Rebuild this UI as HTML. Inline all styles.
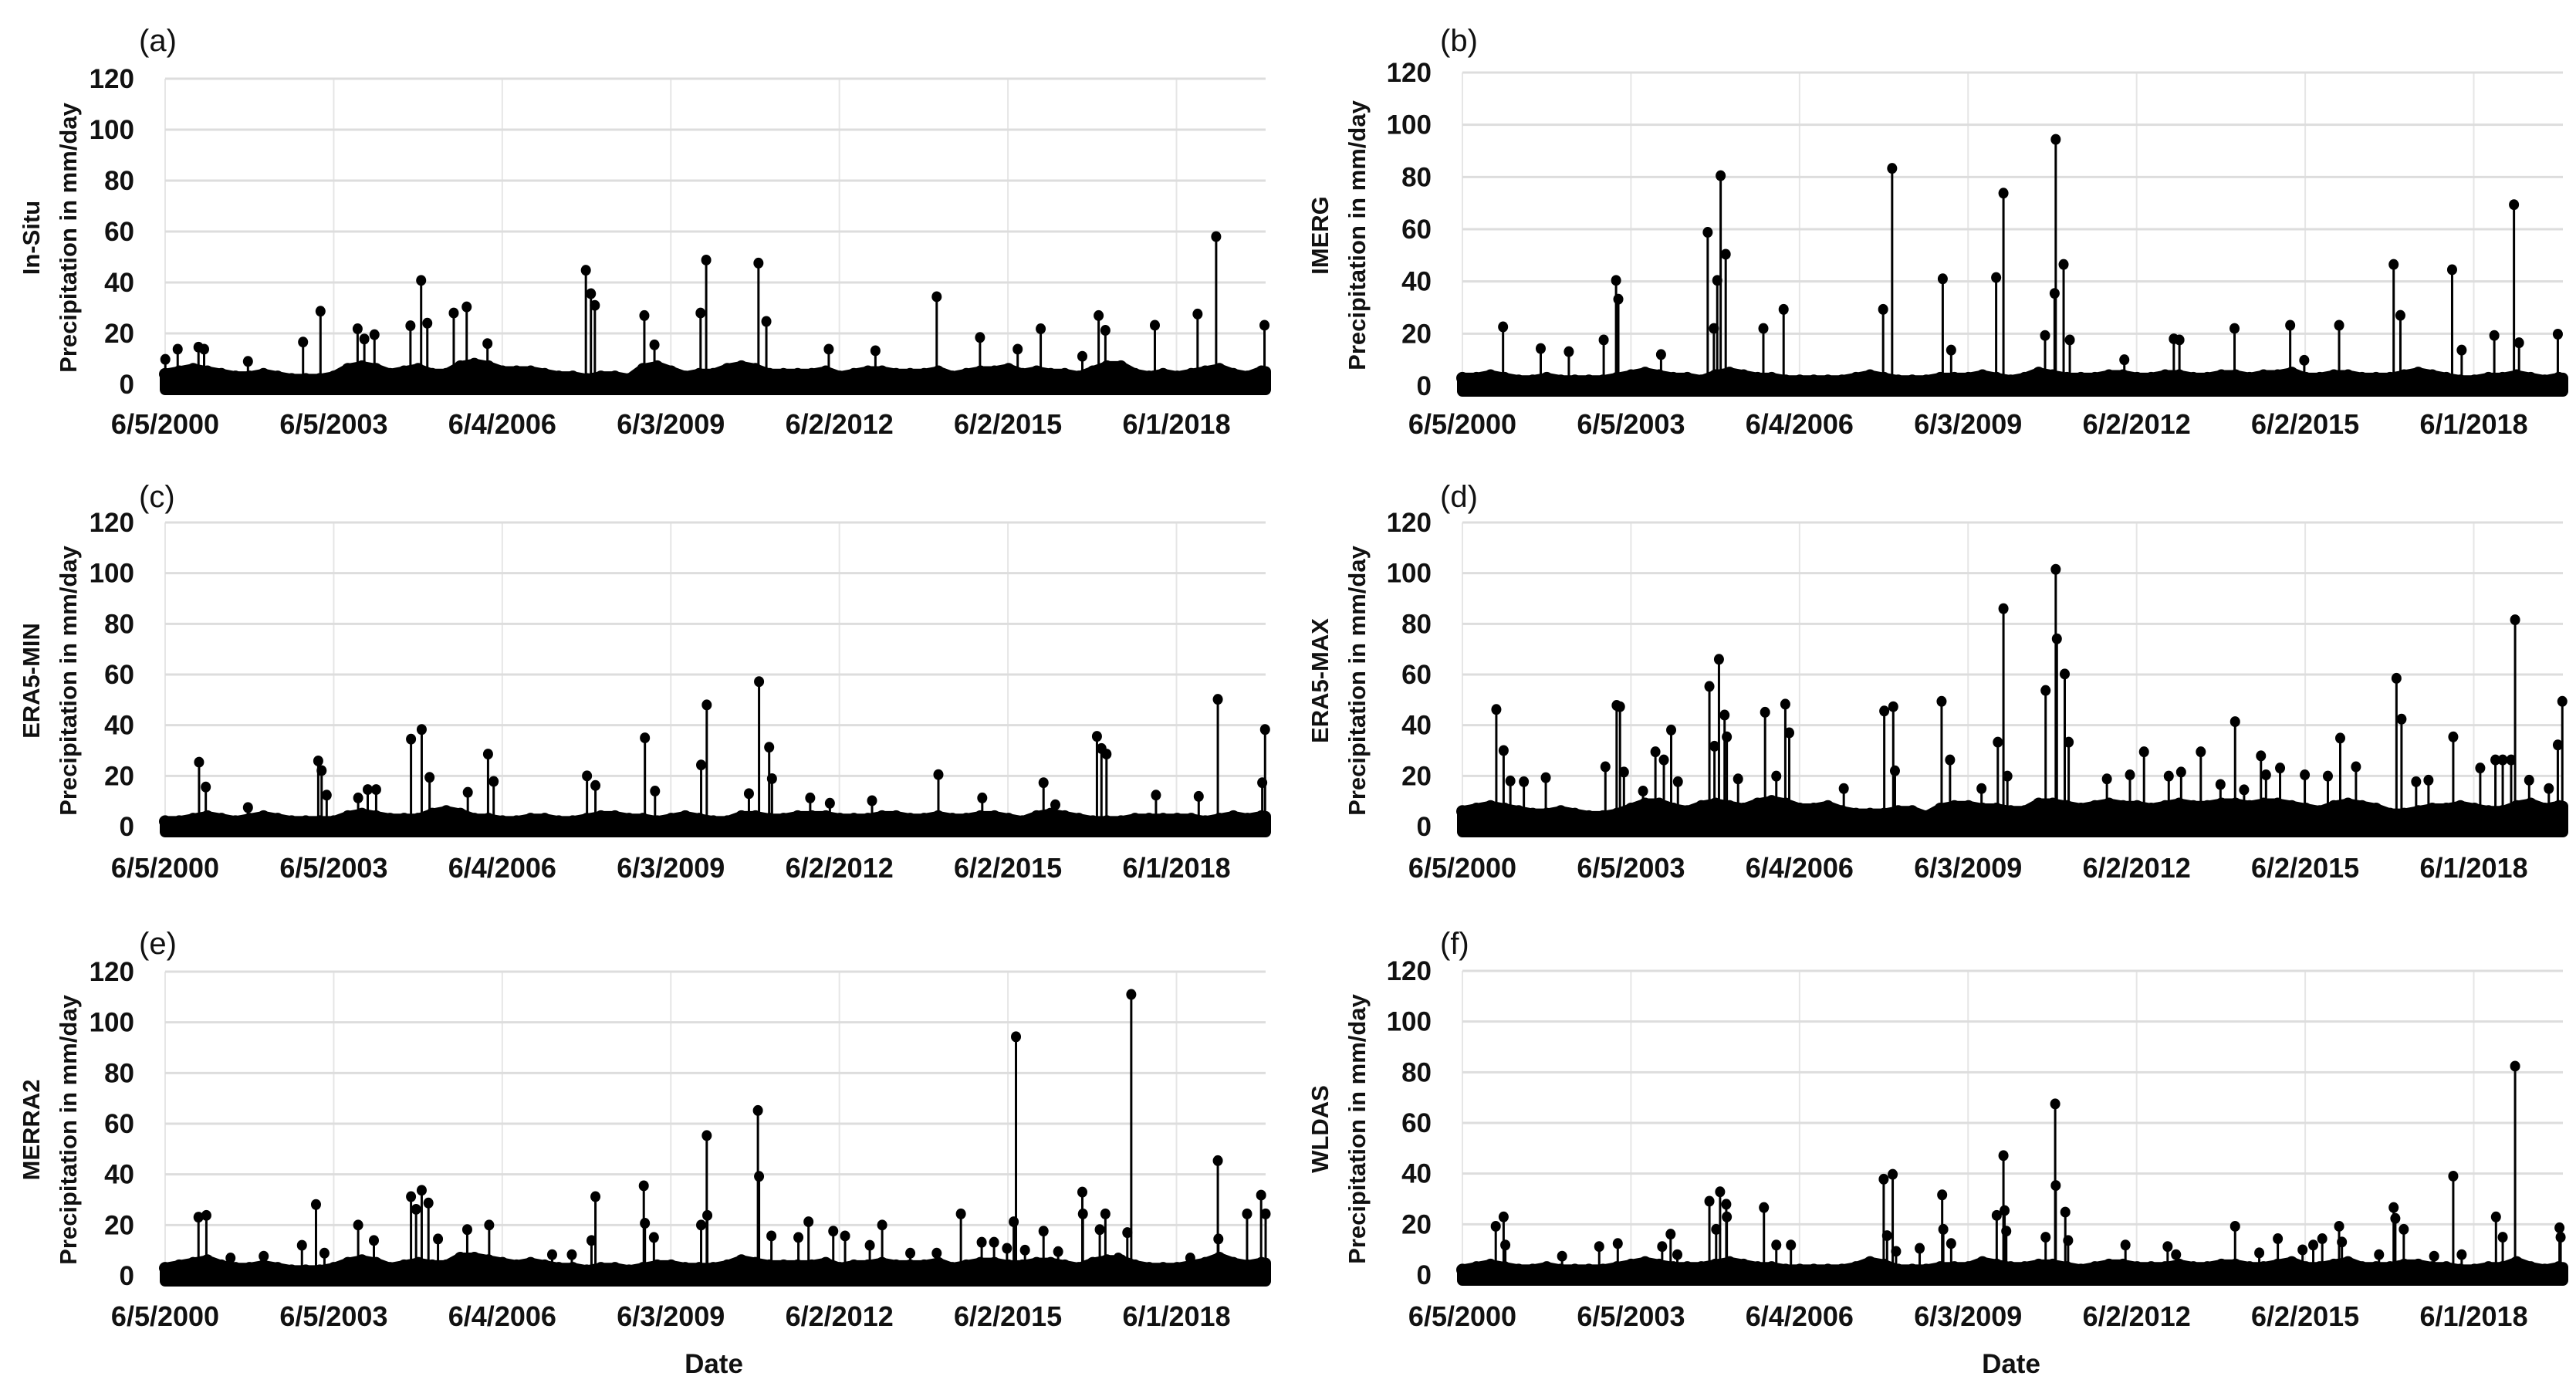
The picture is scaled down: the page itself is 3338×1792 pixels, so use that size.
<!DOCTYPE html>
<html><head><meta charset="utf-8"><style>
html,body{margin:0;padding:0;background:#fff;}
svg{display:block;font-family:"Liberation Sans",Arial,sans-serif;}
</style></head><body>
<svg id="fig" width="3338" height="1792" viewBox="0 0 3338 1792" xmlns="http://www.w3.org/2000/svg"></svg>
<script>
// ---- tick labels ----
const yTicks = [0, 20, 40, 60, 80, 100, 120];
const dateTickLabels = ["6/5/2000","6/5/2003","6/4/2006","6/3/2009","6/2/2012","6/2/2015","6/1/2018"];
const dateTickYears = [2000.427, 2003.425, 2006.423, 2009.421, 2012.419, 2015.417, 2018.415];
const xStart = 2000.427, xEnd = 2020.0, baseStep = 0.25;

// ---- (a) In-Situ ----
const aPeakYears = [2000.43,2000.65,2001.02,2001.12,2001.90,2002.88,2003.19,2003.85,2003.97,2004.15,2004.79,2004.98,2005.09,2005.56,2005.79,2006.16,2007.91,2008.00,2008.07,2008.95,2009.13,2009.95,2010.05,2010.98,2011.12,2012.23,2013.06,2014.15,2014.92,2015.59,2016.00,2016.74,2017.03,2017.15,2018.03,2018.79,2019.12,2019.98];
const aPeakVals = [9.8,13.8,14.6,13.8,9,16.6,28.7,21.8,17.8,19.5,23,40.8,24,28,30.4,16,44.8,35.6,31,27,15.5,28,48.8,47.6,24.7,13.8,13.2,34.4,18.4,13.8,21.8,11,27,21.2,23.2,27.6,58,23.2];
const aBase = [4,5,6,5,4,3,3,4,3,2,2,2,3,6,7,6,4,5,6,4,4,7,8,7,5,5,5,4,3,3,2,3,3,2,6,7,5,3,4,4,6,7,6,4,4,4,4,5,3,4,5,5,4,4,4,5,3,4,5,5,6,4,5,4,4,3,5,7,7,4,3,4,3,4,5,6,4,3,5];
// ---- (b) IMERG ----
const bPeakYears = [2001.15,2001.82,2002.32,2002.94,2003.16,2003.20,2003.96,2004.79,2004.90,2004.96,2005.02,2005.11,2005.78,2006.14,2007.91,2008.07,2008.97,2009.12,2009.92,2010.05,2010.79,2010.96,2010.98,2011.12,2011.23,2012.20,2013.08,2013.18,2014.16,2015.15,2015.40,2016.02,2016.99,2017.11,2018.03,2018.20,2018.78,2019.13,2019.22,2019.91];
const bPeakVals = [22.6,14.3,13.1,17.6,40.4,33.2,12,58.8,22,40.4,80.5,50.4,22,29.3,29.3,83.3,41,13.7,41.5,73.8,19.3,35.4,94.4,46.5,17.6,10,18,17.6,22,23.2,9.8,23.2,46.5,27,44.5,13.7,19.3,69.4,16.5,19.8];
const bBase = [3,3,4,3,2,2,3,2,2,2,2,3,4,5,4,3,3,2,4,5,4,3,3,2,2,2,2,2,3,4,3,2,2,2,3,3,3,4,3,2,3,5,4,3,3,3,4,4,3,3,4,4,3,3,4,4,3,4,4,5,3,3,4,4,3,3,3,4,5,4,3,2,2,3,3,4,3,2,3];
// ---- (c) ERA5-MIN ----
const cPeakYears = [2001.03,2001.15,2001.90,2003.15,2003.21,2003.30,2003.86,2004.03,2004.18,2004.80,2004.99,2005.13,2005.81,2006.17,2006.27,2007.93,2008.08,2008.96,2009.14,2009.96,2010.06,2010.81,2010.99,2011.17,2011.22,2011.90,2012.25,2013.00,2014.18,2014.96,2016.05,2016.26,2017.00,2017.08,2017.17,2018.05,2018.81,2019.15,2019.94,2019.99];
const cPeakVals = [25.4,15.6,7.5,25.9,22.1,12.4,11.3,14.6,14.6,34.5,38.3,19.4,13.5,28.6,17.8,20,16.2,35,14,24.3,48,13,57.2,31.3,18.9,11.3,9.2,10.2,20.5,11.3,17.3,8.6,35.6,30.8,28.6,12.4,11.9,50.2,17.3,38.3];
const cBase = [2,2,3,4,3,2,3,4,3,2,2,2,2,4,5,4,3,3,3,5,6,5,3,3,2,2,3,3,2,2,3,4,4,3,3,2,3,4,3,2,2,4,4,3,3,4,4,4,3,3,3,4,4,3,3,4,3,3,4,4,3,2,4,5,4,3,2,2,2,3,3,3,3,3,2,3,4,3,4];
// ---- (d) ERA5-MAX ----
const dPeakYears = [2001.03,2001.16,2001.28,2001.52,2001.91,2002.97,2003.17,2003.23,2003.30,2003.64,2003.86,2004.01,2004.14,2004.26,2004.82,2004.91,2004.99,2005.09,2005.13,2005.33,2005.81,2006.01,2006.17,2006.24,2007.21,2007.93,2008.09,2008.12,2008.95,2009.10,2009.66,2009.95,2010.05,2010.12,2010.80,2010.98,2011.00,2011.14,2011.21,2011.89,2012.30,2012.55,2012.99,2013.21,2013.56,2013.91,2014.17,2014.33,2014.63,2014.72,2014.97,2015.41,2015.82,2016.04,2016.32,2017.04,2017.13,2017.39,2017.61,2018.05,2018.53,2018.80,2018.93,2019.08,2019.15,2019.40,2019.75,2019.91,2019.99];
const dPeakVals = [46.2,30,18,17.7,19.3,23.6,47.8,47.3,21.5,14,29.5,26.3,38.1,17.7,55.3,31.7,66,44,35.4,18.8,45.1,19.9,48.3,37,15,45.6,47.3,22,49.4,26.3,15,33.3,86,19.9,53.7,101.5,74.1,60.2,33.3,18.8,20.4,29.5,19.9,21.5,29.5,16.6,41.4,14.5,27.9,20.4,23.1,20.4,19.9,34.9,23.6,58.5,42.4,17.7,18.3,35.4,23.1,26.3,26.3,26.3,81.6,18.3,15,32.2,49.4];
const dBase = [6,7,8,7,6,5,5,6,5,4,4,5,7,9,9,7,6,8,9,8,7,9,10,9,7,7,8,6,5,5,5,6,6,4,7,8,8,7,7,6,6,9,9,8,7,8,9,8,8,7,8,9,8,8,9,9,8,9,9,8,7,6,8,9,8,7,5,5,6,7,7,8,7,6,6,8,9,7,8];
// ---- (e) MERRA2 ----
const ePeakYears = [2001.02,2001.16,2001.59,2002.18,2002.86,2003.11,2003.26,2003.86,2004.14,2004.80,2004.89,2004.99,2005.11,2005.28,2005.80,2006.19,2007.31,2007.66,2008.01,2008.08,2008.94,2008.96,2009.12,2009.96,2010.06,2010.07,2010.97,2010.99,2011.21,2011.69,2011.87,2012.31,2012.52,2012.96,2013.18,2013.68,2014.15,2014.58,2014.95,2015.17,2015.40,2015.56,2015.52,2015.72,2016.05,2016.31,2016.74,2016.75,2017.05,2017.15,2017.38,2017.54,2017.61,2018.66,2019.15,2019.16,2019.67,2019.92,2020.0];
const ePeakVals = [23.1,23.8,7,7.7,12,28.1,8.9,20,13.9,31.2,26.2,33.7,28.7,14.5,18.2,20,8.3,8.3,13.9,31.2,35.5,20.7,15.1,20,55.3,23.8,65.2,39.2,15.7,15.1,21.3,17.6,15.7,12,20,8.9,8.9,24.4,13.2,13.2,10.8,94.3,21.3,10.1,17.6,9.5,33,24.4,18.2,24.4,7,17,111,7,45.4,14.5,24.4,31.8,24.4];
const eBase = [3,4,5,6,4,3,3,4,3,2,2,2,3,5,6,5,3,4,5,4,4,7,7,6,5,4,5,4,3,3,2,3,3,2,3,4,4,3,3,3,4,6,5,4,4,4,4,5,3,4,4,5,4,4,4,5,3,4,5,5,4,4,5,5,4,3,5,6,6,4,3,3,3,4,5,7,5,4,5];
// ---- (f) WLDAS ----
const fPeakYears = [2001.02,2001.16,2001.19,2002.20,2002.86,2003.19,2003.98,2004.13,2004.25,2004.82,2004.94,2005.01,2005.12,2005.13,2005.79,2006.01,2006.27,2007.92,2007.98,2008.08,2008.14,2008.56,2008.96,2008.98,2009.12,2009.93,2010.05,2010.07,2010.10,2010.80,2010.97,2010.98,2011.15,2011.20,2012.22,2012.97,2013.12,2014.17,2014.60,2014.93,2015.37,2015.56,2015.72,2016.02,2016.07,2016.73,2016.99,2017.02,2017.17,2017.71,2018.05,2018.20,2018.81,2018.93,2019.15,2019.94,2019.96];
const fPeakVals = [19.2,22.9,11.8,7.4,11.2,12.4,11.2,16.1,8,29.1,18,32.8,27.9,22.9,26.6,11.8,11.8,37.8,15.5,39.7,9.3,10.5,31.6,18,12.4,23.5,47.1,25.4,17.3,14.9,67.5,35.3,24.8,13.6,11.8,11.2,8,19.2,8.7,14.3,9.9,11.8,14.3,19.2,13,8,26.6,22.3,18,7.4,39,8,22.9,14.9,82.4,18.6,14.9];
const fBase = [2,3,4,3,2,2,3,2,2,2,2,3,4,5,4,3,3,3,4,5,4,3,3,2,2,2,2,2,3,5,4,2,2,2,3,3,3,5,4,3,3,4,4,3,2,3,4,4,3,3,3,4,3,3,4,4,3,3,4,5,3,3,4,5,3,3,3,4,4,3,3,2,2,3,3,5,3,2,3];

const panels = [
  {key:'a', letter:'(a)', title:'In-Situ', years:aPeakYears, vals:aPeakVals, base:aBase, x0:214, x1:1640, yTop:102, yBot:498, dateY:549, labelX:180, labelY:52, t1:43, t2:91},
  {key:'b', letter:'(b)', title:'IMERG', years:bPeakYears, vals:bPeakVals, base:bBase, x0:1895, x1:3321, yTop:94, yBot:500, dateY:549, labelX:1866, labelY:52, t1:1713, t2:1761},
  {key:'c', letter:'(c)', title:'ERA5-MIN', years:cPeakYears, vals:cPeakVals, base:cBase, x0:214, x1:1640, yTop:677, yBot:1071, dateY:1124, labelX:180, labelY:643, t1:43, t2:91},
  {key:'d', letter:'(d)', title:'ERA5-MAX', years:dPeakYears, vals:dPeakVals, base:dBase, x0:1895, x1:3321, yTop:677, yBot:1071, dateY:1124, labelX:1866, labelY:643, t1:1713, t2:1761},
  {key:'e', letter:'(e)', title:'MERRA2', years:ePeakYears, vals:ePeakVals, base:eBase, x0:214, x1:1640, yTop:1259, yBot:1653, dateY:1705, labelX:180, labelY:1222, t1:43, t2:91, date:true},
  {key:'f', letter:'(f)', title:'WLDAS', years:fPeakYears, vals:fPeakVals, base:fBase, x0:1895, x1:3321, yTop:1258, yBot:1652, dateY:1705, labelX:1866, labelY:1222, t1:1713, t2:1761, date:true}
];

const NS = 'http://www.w3.org/2000/svg';
const svg = document.getElementById('fig');
function mk(tag, attrs, parent){
  const e = document.createElementNS(NS, tag);
  for (const k in attrs) e.setAttribute(k, attrs[k]);
  parent.appendChild(e);
  return e;
}

panels.forEach(p => {
  const g = mk('g', {}, svg);
  
  
  const xs = y => p.x0 + (y - xStart) / (xEnd - xStart) * (p.x1 - p.x0);
  const ys = v => p.yBot - v / 120 * (p.yBot - p.yTop);

  const grid = mk('g', {}, g);
  
  
  dateTickYears.forEach(t => {
    mk('line', {x1:xs(t), x2:xs(t), y1:p.yTop, y2:p.yBot+8, stroke:'#e6e6e6', 'stroke-width':2}, grid);
  });
  yTicks.forEach(v => {
    if (v === 0) return;
    mk('line', {x1:p.x0, x2:p.x1, y1:ys(v), y2:ys(v), stroke:'#dddddd', 'stroke-width':3}, grid);
  });

  yTicks.forEach(v => {
    const t = mk('text', {x:p.x0-40, y:ys(v)+12, 'text-anchor':'end', 'font-size':35, 'font-weight':'bold', fill:'#111'}, g);
    t.textContent = v;
    
    
  });
  dateTickLabels.forEach((lab, i) => {
    const t = mk('text', {x:xs(dateTickYears[i]), y:p.dateY+13, 'text-anchor':'middle', 'font-size':36, 'font-weight':'bold', fill:'#111'}, g);
    t.textContent = lab;
    
    
  });

  const ser = mk('g', {fill:'#000', stroke:'#000'}, g);
  
  
  let d = 'M' + xs(xStart) + ',' + (p.yBot+7);
  p.base.forEach((v, i) => {
    const yr = xStart + i * baseStep;
    d += ' L' + xs(yr).toFixed(1) + ',' + ys(v).toFixed(1);
  });
  d += ' L' + p.x1 + ',' + ys(p.base[p.base.length-1]).toFixed(1) + ' L' + p.x1 + ',' + (p.yBot+7) + ' Z';
  const area = mk('path', {d:d, 'stroke-width':14, 'stroke-linejoin':'round'}, ser);
  
  
  p.base.forEach((v, i) => {
    const yr = xStart + i * baseStep;
    const c = mk('circle', {cx:xs(yr), cy:ys(v), r:8, stroke:'none'}, ser);
    
    
  });
  p.years.forEach((yr, i) => {
    const x = xs(yr), y = ys(p.vals[i]);
    const l = mk('line', {x1:x, x2:x, y1:p.yBot, y2:y, 'stroke-width':3}, ser);
    
    
    const c = mk('ellipse', {cx:x, cy:y, rx:6.5, ry:7, stroke:'none'}, ser);
    
    
  });

  const L = mk('text', {x:p.labelX, y:p.labelY+14, 'font-size':40, fill:'#111'}, g);
  L.textContent = p.letter;
  
  
  const cy = (p.yTop + p.yBot) / 2 + 8;
  const t1 = mk('text', {x:p.t1, y:cy, 'text-anchor':'middle', 'font-size':31, 'font-weight':'bold', fill:'#111', transform:'rotate(-90 '+p.t1+' '+cy+')', 'dominant-baseline':'middle'}, g);
  t1.textContent = p.title;
  
  
  const t2 = mk('text', {x:p.t2, y:cy, 'text-anchor':'middle', 'font-size':31, 'font-weight':'bold', fill:'#111', transform:'rotate(-90 '+p.t2+' '+cy+')', 'dominant-baseline':'middle'}, g);
  t2.textContent = 'Precipitation in mm/day';
  
  
  if (p.date) {
    const dt = mk('text', {x:(p.x0+p.x1)/2 - 2, y:1779, 'text-anchor':'middle', 'font-size':35, 'font-weight':'bold', fill:'#111'}, g);
    dt.textContent = 'Date';
    
    
  }
});
</script>
</body></html>
